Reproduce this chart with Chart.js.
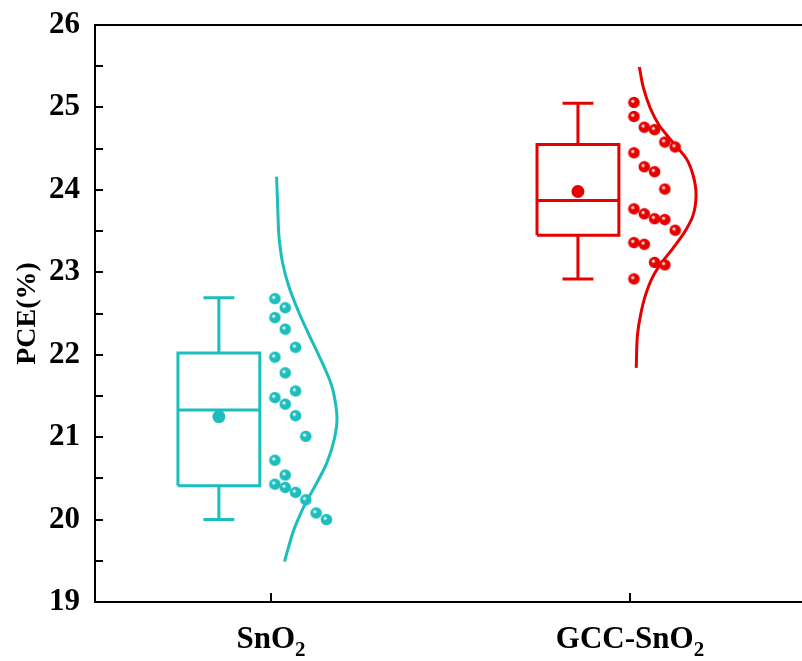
<html>
<head>
  <title>PCE</title>
  <script src="https://cdn.jsdelivr.net/npm/chart.js"></script>
  <style>
    body { margin: 0; background: #fff; }
    canvas { display: block; background: #fff; }
  </style>
</head>
<body>
  <canvas id="grafico" width="802" height="661"></canvas>

  <script>
    // categorias e dados
    const categories = ['SnO2', 'GCC-SnO2'];
    const yTicks = [19, 20, 21, 22, 23, 24, 25, 26];

    const snoPce = [22.68, 22.57, 22.45, 22.31, 22.09, 21.97, 21.78, 21.56, 21.48, 21.40,
                    21.26, 21.01, 20.72, 20.54, 20.43, 20.39, 20.33, 20.24, 20.08, 20.00];
    const gccPce = [25.06, 24.89, 24.76, 24.73, 24.58, 24.52, 24.45, 24.28, 24.22, 24.01,
                    23.77, 23.71, 23.65, 23.64, 23.51, 23.36, 23.34, 23.12, 23.09, 22.92];

    const boxMin    = [20.00, 22.92];
    const boxQ1     = [20.41, 23.45];
    const boxMedian = [21.33, 23.87];
    const boxQ3     = [22.02, 24.55];
    const boxMax    = [22.69, 25.05];
    const boxMean   = [21.25, 23.98];

    // curva normal (valor, densidade relativa)
    const snoCurveY   = [24.16, 23.76, 23.43, 23.11, 22.83, 22.54, 22.26, 21.98, 21.63, 21.39,
                         21.23, 20.99, 20.70, 20.46, 20.26, 20.10, 19.89, 19.65, 19.49];
    const snoCurveDen = [0.01, 0.03, 0.05, 0.11, 0.21, 0.36, 0.53, 0.71, 0.91, 0.98,
                         1.00, 0.96, 0.84, 0.68, 0.53, 0.42, 0.30, 0.20, 0.14];
    const gccCurveY   = [25.49, 25.23, 24.99, 24.79, 24.63, 24.50, 24.38, 24.18, 23.94, 23.69,
                         23.51, 23.29, 23.11, 22.93, 22.72, 22.48, 22.24, 21.84];
    const gccCurveDen = [0.07, 0.14, 0.25, 0.39, 0.56, 0.71, 0.84, 0.95, 1.00, 0.95,
                         0.83, 0.62, 0.43, 0.28, 0.17, 0.09, 0.04, 0.02];

    const cores = ['#1CBDBD', '#E60000'];
    const fonte = "'Liberation Serif', 'Times New Roman', serif";

    const boxOffset = -0.145, boxHalf = 0.114, capHalf = 0.043;
    const ptBase = 0.011, ptStep = 0.0287;
    const curveBase = 0.014, curveWidth = 0.17;

    function boxPath(i) {
      const c = i + boxOffset;
      const gap = { x: c, y: null };
      return [
        { x: c - boxHalf, y: boxQ1[i] }, { x: c - boxHalf, y: boxQ3[i] },
        { x: c + boxHalf, y: boxQ3[i] }, { x: c + boxHalf, y: boxQ1[i] },
        { x: c - boxHalf, y: boxQ1[i] }, gap,
        { x: c - boxHalf, y: boxMedian[i] }, { x: c + boxHalf, y: boxMedian[i] }, gap,
        { x: c, y: boxQ3[i] }, { x: c, y: boxMax[i] }, gap,
        { x: c - capHalf, y: boxMax[i] }, { x: c + capHalf, y: boxMax[i] }, gap,
        { x: c, y: boxQ1[i] }, { x: c, y: boxMin[i] }, gap,
        { x: c - capHalf, y: boxMin[i] }, { x: c + capHalf, y: boxMin[i] }
      ];
    }

    // pontos lado a lado dentro de faixas de 0.5
    function pontos(vals, i) {
      const cont = {};
      return vals.map(v => {
        const b = Math.floor(v / 0.5 + 1e-9);
        const col = cont[b] || 0;
        cont[b] = col + 1;
        return { x: i + ptBase + col * ptStep, y: v };
      });
    }

    function curva(ys, dens, i) {
      return ys.map((v, k) => ({ x: i + curveBase + dens[k] * curveWidth, y: v }));
    }

    function bolinha(cor) {
      const c = document.createElement('canvas');
      c.width = 13; c.height = 13;
      const g = c.getContext('2d');
      const grad = g.createRadialGradient(5, 5, 0.5, 6.5, 6.5, 6.5);
      grad.addColorStop(0, '#ffffff');
      grad.addColorStop(0.3, cor);
      grad.addColorStop(1, cor);
      g.fillStyle = grad;
      g.beginPath(); g.arc(6.5, 6.5, 5.8, 0, Math.PI * 2); g.fill();
      return c;
    }

    const decor = {
      id: 'decor',
      afterDraw(chart) {
        const { ctx, chartArea: a, scales: { x, y } } = chart;
        ctx.save();
        ctx.strokeStyle = '#000';
        ctx.lineWidth = 2;
        // borda de cima
        ctx.beginPath(); ctx.moveTo(a.left - 1, a.top); ctx.lineTo(a.right, a.top); ctx.stroke();
        for (let k = 0; k < yTicks.length; k++) {
          const vals = [yTicks[k]];
          if (k < yTicks.length - 1) vals.push((yTicks[k] + yTicks[k + 1]) / 2);
          vals.forEach(v => {
            const py = Math.round(y.getPixelForValue(v));
            ctx.beginPath(); ctx.moveTo(a.left, py); ctx.lineTo(a.left + 8, py); ctx.stroke();
          });
        }
        categories.forEach((c, i) => {
          const px = Math.round(x.getPixelForValue(i));
          ctx.beginPath(); ctx.moveTo(px, a.bottom); ctx.lineTo(px, a.bottom - 9); ctx.stroke();

          // rótulo com subscrito
          const base = c.slice(0, -1), sub = c.slice(-1);
          ctx.fillStyle = '#000';
          ctx.textBaseline = 'alphabetic';
          ctx.font = 'bold 31px ' + fonte;
          const w1 = ctx.measureText(base).width;
          ctx.font = 'bold 21px ' + fonte;
          const w2 = ctx.measureText(sub).width;
          const x0 = px - (w1 + w2) / 2;
          ctx.font = 'bold 31px ' + fonte;
          ctx.fillText(base, x0, 648);
          ctx.font = 'bold 21px ' + fonte;
          ctx.fillText(sub, x0 + w1, 656);
        });
        ctx.restore();
      }
    };

    const datasets = [];
    [snoPce, gccPce].forEach((vals, i) => {
      datasets.push({
        label: categories[i] + ' pontos',
        data: pontos(vals, i),
        pointStyle: bolinha(cores[i]),
        showLine: false
      });
    });
    [0, 1].forEach(i => {
      datasets.push({
        label: categories[i] + ' média',
        data: [{ x: i + boxOffset, y: boxMean[i] }],
        pointRadius: 6.5,
        pointBackgroundColor: cores[i],
        pointBorderWidth: 0,
        showLine: false
      });
      datasets.push({
        label: categories[i] + ' caixa',
        data: boxPath(i),
        showLine: true,
        spanGaps: false,
        borderColor: cores[i],
        borderWidth: 3,
        borderJoinStyle: 'miter',
        pointRadius: 0,
        tension: 0
      });
    });
    [[snoCurveY, snoCurveDen], [gccCurveY, gccCurveDen]].forEach(([ys, ds], i) => {
      datasets.push({
        label: categories[i] + ' curva',
        data: curva(ys, ds, i),
        indexAxis: 'y',
        showLine: true,
        borderColor: cores[i],
        borderWidth: 3,
        pointRadius: 0,
        cubicInterpolationMode: 'monotone'
      });
    });

    new Chart(document.getElementById('grafico'), {
      type: 'scatter',
      data: { datasets },
      plugins: [decor],
      options: {
        responsive: false,
        animation: false,
        layout: { padding: { top: 25, left: 0, right: 0, bottom: 0 }, autoPadding: false },
        plugins: { legend: { display: false }, tooltip: { enabled: false } },
        scales: {
          x: {
            type: 'linear',
            position: 'bottom',
            min: -0.49,
            max: 1.479,
            grid: { display: false, drawTicks: false },
            ticks: { display: false },
            border: { display: true, color: '#000', width: 2 },
            afterFit: s => { s.height = 59; }
          },
          y: {
            min: 19,
            max: 26,
            afterBuildTicks: s => { s.ticks = yTicks.map(v => ({ value: v })); },
            grid: { display: false, drawTicks: false },
            border: { display: true, color: '#000', width: 2 },
            ticks: {
              color: '#000',
              padding: 15,
              font: { family: fonte, size: 31, weight: 'bold' }
            },
            title: {
              display: true,
              text: 'PCE(%)',
              color: '#000',
              padding: { top: 11, bottom: 0 },
              font: { family: fonte, size: 28, weight: 'bold' }
            },
            afterFit: s => { s.width = 95; s.paddingTop = 0; s.paddingBottom = 0; }
          }
        }
      }
    });
  </script>
</body>
</html>
